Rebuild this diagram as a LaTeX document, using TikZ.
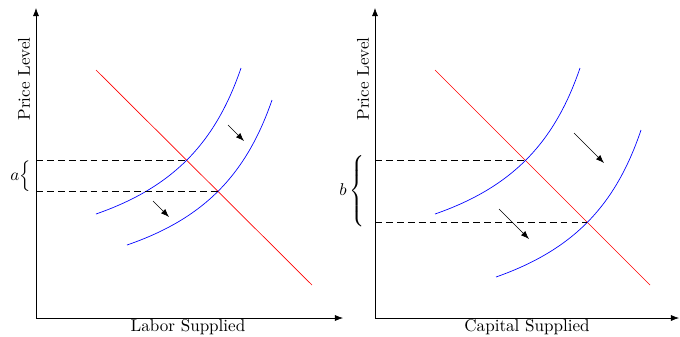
\documentclass[tikz,border=0pt]{standalone}
\usepackage{amsmath,amssymb}
\usepackage{tikz}
\usetikzlibrary{arrows.meta, calc, intersections}

\begin{document}
\begin{tikzpicture}[x=0.0206cm, y=-0.0206cm]
  \useasboundingbox (0,0) rectangle (680,336);

  % Left panel: axes
  \coordinate (oL) at (36,318);
  \coordinate (yL) at (36,8);
  \coordinate (xL) at (343,318);
  \draw[-Latex] (oL) -- (yL);
  \draw[-Latex] (oL) -- (xL);
  \node[rotate=90] (pL) at (24,79) {Price Level};
  \node (labL) at (188,327) {Labor Supplied};

  % Left panel: demand and supply
  \draw[red, name path=dL] (96,70) -- (312,285);
  \draw[blue, name path=sL1] (96,214) to[bend right=26] (241,68);
  \draw[blue, name path=sL2] (127,245) to[bend right=26] (272,100);
  \path[name intersections={of=dL and sL1, by=eL1}];
  \path[name intersections={of=dL and sL2, by=eL2}];
  \draw[dash pattern=on 4pt off 2.4pt] (oL |- eL1) -- (eL1);
  \draw[dash pattern=on 4pt off 2.4pt] (oL |- eL2) -- (eL2);
  \draw[-Latex] (228,125) -- (244,141);
  \draw[-Latex] (153,201) -- (169,217);

  % Left panel: brace
  \node[anchor=east, inner sep=0pt] (bA) at ($(oL |- eL1)!0.5!(oL |- eL2) + (-5,0)$) {$a\Big\{$};

  % Right panel: axes
  \coordinate (oR) at (375,318);
  \coordinate (yR) at (375,8);
  \coordinate (xR) at (679,318);
  \draw[-Latex] (oR) -- (yR);
  \draw[-Latex] (oR) -- (xR);
  \node[rotate=90] (pR) at (363,79) {Price Level};
  \node (labR) at (527,327) {Capital Supplied};

  % Right panel: demand and supply
  \draw[red, name path=dR] (435,70) -- (650,285);
  \draw[blue, name path=sR1] (435,214) to[bend right=26] (580,68);
  \draw[blue, name path=sR2] (496,277) to[bend right=26] (641,130);
  \path[name intersections={of=dR and sR1, by=eR1}];
  \path[name intersections={of=dR and sR2, by=eR2}];
  \draw[dash pattern=on 4pt off 2.4pt] (oR |- eR1) -- (eR1);
  \draw[dash pattern=on 4pt off 2.4pt] (oR |- eR2) -- (eR2);
  \draw[-Latex] (574,133) -- (604,163);
  \draw[-Latex] (499,209) -- (529,239);

  % Right panel: brace
  \node[anchor=east, inner sep=0pt] (bB) at ($(oR |- eR1)!0.5!(oR |- eR2) + (-8,0)$) {$b\left\{\rule[-19pt]{0pt}{38pt}\right.$};
\end{tikzpicture}
\end{document}
